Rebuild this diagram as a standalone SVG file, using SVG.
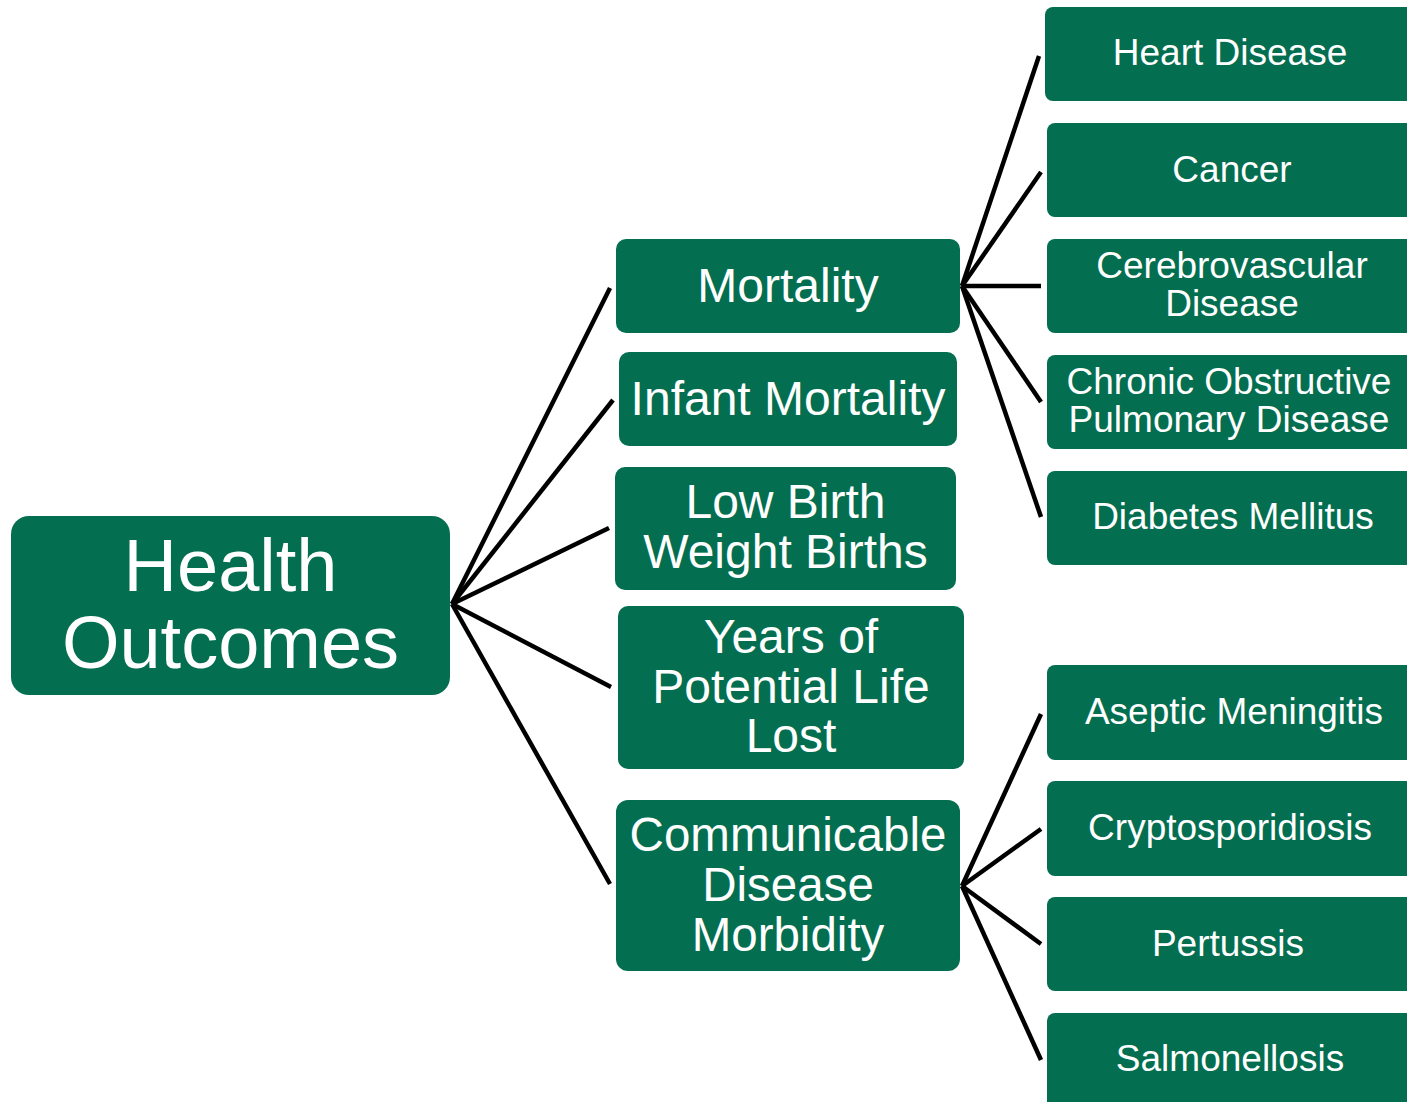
<svg xmlns="http://www.w3.org/2000/svg" width="1407" height="1102" viewBox="0 0 1407 1102">
<style>
.box{fill:#046E50}
.t{fill:#fff;font-family:"Liberation Sans",Arial,sans-serif;text-anchor:middle}
.c{stroke:#000;stroke-width:4.5;fill:none;stroke-linecap:butt}
</style>
<rect width="1407" height="1102" fill="#fff"/>
<g id="connectors">
<line class="c" x1="452" y1="604" x2="610" y2="288"/>
<line class="c" x1="452" y1="604" x2="613" y2="400"/>
<line class="c" x1="452" y1="604" x2="609" y2="528"/>
<line class="c" x1="452" y1="604" x2="611" y2="687"/>
<line class="c" x1="452" y1="604" x2="610" y2="884"/>
<line class="c" x1="962" y1="286" x2="1039" y2="56"/>
<line class="c" x1="962" y1="286" x2="1041" y2="172"/>
<line class="c" x1="962" y1="286" x2="1041" y2="286"/>
<line class="c" x1="962" y1="286" x2="1041" y2="402"/>
<line class="c" x1="962" y1="286" x2="1041" y2="517"/>
<line class="c" x1="962" y1="886" x2="1041" y2="714"/>
<line class="c" x1="962" y1="886" x2="1041" y2="829"/>
<line class="c" x1="962" y1="886" x2="1041" y2="944"/>
<line class="c" x1="962" y1="886" x2="1041" y2="1060"/>
</g>
<g id="health-outcomes">
<rect class="box" x="11" y="516" width="439" height="179" rx="18"/>
<text class="t" font-size="74"><tspan x="230.5" y="591">Health</tspan><tspan x="230.5" y="668">Outcomes</tspan></text>
</g>
<g id="mortality">
<rect class="box" x="616" y="239" width="344" height="94" rx="10"/>
<text class="t" font-size="48" x="788" y="302">Mortality</text>
</g>
<g id="infant-mortality">
<rect class="box" x="619" y="352" width="338" height="94" rx="10"/>
<text class="t" font-size="48" x="788" y="415">Infant Mortality</text>
</g>
<g id="low-birth-weight">
<rect class="box" x="615" y="467" width="341" height="123" rx="10"/>
<text class="t" font-size="48"><tspan x="785.5" y="518">Low Birth</tspan><tspan x="785.5" y="568">Weight Births</tspan></text>
</g>
<g id="ypll">
<rect class="box" x="618" y="606" width="346" height="163" rx="10"/>
<text class="t" font-size="48"><tspan x="791" y="653">Years of</tspan><tspan x="791" y="703">Potential Life</tspan><tspan x="791" y="752">Lost</tspan></text>
</g>
<g id="communicable">
<rect class="box" x="616" y="800" width="344" height="171" rx="12"/>
<text class="t" font-size="47.5"><tspan x="788" y="851">Communicable</tspan><tspan x="788" y="901">Disease</tspan><tspan x="788" y="951">Morbidity</tspan></text>
</g>
<g id="heart-disease">
<rect class="box" x="1045" y="7" width="380" height="94" rx="8"/>
<text class="t" font-size="37" x="1230" y="65">Heart Disease</text>
</g>
<g id="cancer">
<rect class="box" x="1047" y="123" width="380" height="94" rx="8"/>
<text class="t" font-size="37" x="1232" y="182">Cancer</text>
</g>
<g id="cerebrovascular">
<rect class="box" x="1047" y="239" width="380" height="94" rx="8"/>
<text class="t" font-size="37"><tspan x="1232" y="278">Cerebrovascular</tspan><tspan x="1232" y="316">Disease</tspan></text>
</g>
<g id="copd">
<rect class="box" x="1047" y="355" width="380" height="94" rx="8"/>
<text class="t" font-size="37"><tspan x="1229" y="394">Chronic Obstructive</tspan><tspan x="1229" y="432">Pulmonary Disease</tspan></text>
</g>
<g id="diabetes">
<rect class="box" x="1047" y="471" width="380" height="94" rx="8"/>
<text class="t" font-size="37" x="1233" y="529">Diabetes Mellitus</text>
</g>
<g id="aseptic-meningitis">
<rect class="box" x="1047" y="665" width="380" height="95" rx="8"/>
<text class="t" font-size="37" x="1234" y="724">Aseptic Meningitis</text>
</g>
<g id="cryptosporidiosis">
<rect class="box" x="1047" y="781" width="380" height="95" rx="8"/>
<text class="t" font-size="37" x="1230" y="840">Cryptosporidiosis</text>
</g>
<g id="pertussis">
<rect class="box" x="1047" y="897" width="380" height="94" rx="8"/>
<text class="t" font-size="37" x="1228" y="956">Pertussis</text>
</g>
<g id="salmonellosis">
<rect class="box" x="1047" y="1013" width="380" height="120" rx="8"/>
<text class="t" font-size="37" x="1230" y="1071">Salmonellosis</text>
</g>
</svg>
